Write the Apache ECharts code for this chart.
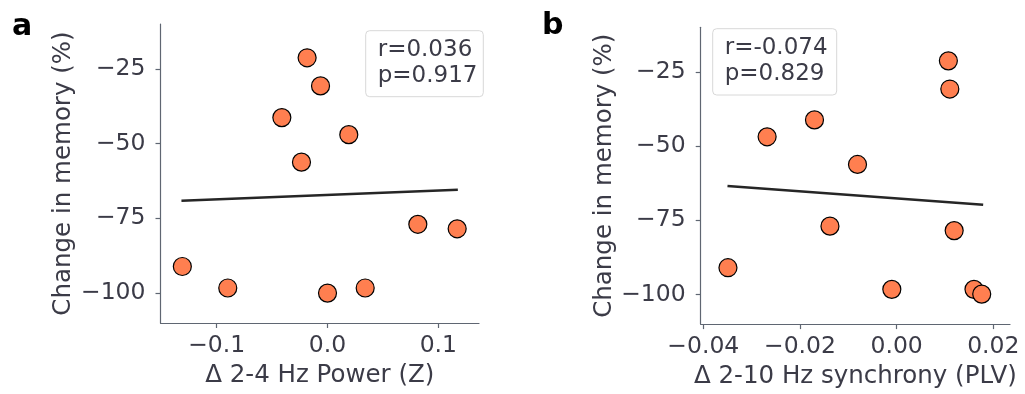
<!DOCTYPE html>
<html>
<head>
<meta charset="utf-8">
<script src="https://cdn.jsdelivr.net/npm/echarts@6/dist/echarts.min.js"></script>
<style>
  html, body { margin: 0; padding: 0; background: #fff; }
  #chart { width: 1025px; height: 394px; }
</style>
</head>
<body>
<div id="chart"></div>
<script>
// panel a: delta 2-4 Hz power vs change in memory
const powerX = [-0.0184, -0.0063, -0.0412, 0.0192, -0.0235, 0.0815, 0.117, -0.131, -0.090, 0.0, 0.034];
const powerY = [-21.3, -30.7, -41.3, -47.0, -56.2, -77.0, -78.5, -91.1, -98.3, -100.0, -98.3];
const powerFitX = [-0.1318, 0.1176];
const powerFitY = [-69.1, -65.4];
const powerTicks = [-0.1, 0, 0.1];

// panel b: delta 2-10 Hz synchrony vs change in memory
const syncX = [0.0107, 0.0110, -0.0170, -0.0268, -0.0081, -0.0138, 0.0119, -0.0349, -0.0010, 0.0160, 0.0176];
const syncY = [-21.3, -30.8, -41.2, -46.9, -56.2, -77.0, -78.5, -91.0, -98.3, -98.3, -99.9];
const syncFitX = [-0.035, 0.0179];
const syncFitY = [-63.5, -69.8];
const syncTicks = [-0.04, -0.02, 0, 0.02];

const memoryTicks = [-100, -75, -50, -25];
const statsA = ["r=0.036", "p=0.917"];
const statsB = ["r=-0.074", "p=0.829"];

const FONT = "DejaVu Sans";
const TEXT = "#3b3b47";
const SPINE = "#5f6672";
const DOT = "#ff7f50";

const minus = (s) => s.replace("-", "\u2212");

const zip = (xs, ys) => xs.map((x, i) => [x, ys[i]]);

const xAxisFor = (idx, min, max, ticks, digits, name) => ({
  gridIndex: idx,
  type: "value",
  min,
  max,
  name,
  nameLocation: "middle",
  nameGap: 38,
  nameTextStyle: { fontFamily: FONT, fontSize: 24.5, color: TEXT },
  splitLine: { show: false },
  axisLine: { show: true, onZero: false, lineStyle: { color: SPINE, width: 1.2 } },
  axisTick: { show: true, length: 5, customValues: ticks, lineStyle: { color: SPINE, width: 1.2 } },
  axisLabel: {
    customValues: ticks,
    margin: 11,
    fontFamily: FONT,
    fontSize: 23.5,
    color: TEXT,
    formatter: (v) => minus(v.toFixed(digits)),
  },
});

const yAxisFor = (idx) => ({
  gridIndex: idx,
  type: "value",
  min: -110,
  max: -10,
  name: "Change in memory (%)",
  nameLocation: "middle",
  nameGap: 84,
  nameTextStyle: { fontFamily: FONT, fontSize: 24.5, color: TEXT },
  splitLine: { show: false },
  axisLine: { show: true, onZero: false, lineStyle: { color: SPINE, width: 1.2 } },
  axisTick: { show: true, length: 5, customValues: memoryTicks, lineStyle: { color: SPINE, width: 1.2 } },
  axisLabel: {
    customValues: memoryTicks,
    margin: 15,
    fontFamily: FONT,
    fontSize: 23.5,
    color: TEXT,
    formatter: (v) => minus(String(v)),
  },
});

const scatterFor = (idx, xs, ys) => ({
  type: "scatter",
  xAxisIndex: idx,
  yAxisIndex: idx,
  data: zip(xs, ys),
  symbolSize: 18,
  itemStyle: { color: DOT, borderColor: "#000", borderWidth: 1.2, opacity: 1 },
  z: 3,
  silent: true,
});

const fitFor = (idx, xs, ys) => ({
  type: "line",
  xAxisIndex: idx,
  yAxisIndex: idx,
  data: zip(xs, ys),
  showSymbol: false,
  lineStyle: { color: "#262626", width: 2.5 },
  z: 2,
  silent: true,
});

const statsBox = (x, y, w, h, lines) => ({
  type: "group",
  children: [
    {
      type: "rect",
      shape: { x, y, width: w, height: h, r: 4 },
      style: { fill: "#fff", stroke: "#d8d8d8", lineWidth: 1 },
    },
    ...lines.map((t, i) => ({
      type: "text",
      style: {
        x: x + 12,
        y: y + 19 + i * 26.5,
        text: t,
        font: `23px "${FONT}"`,
        fill: TEXT,
        textVerticalAlign: "middle",
      },
    })),
  ],
});

const chart = echarts.init(document.getElementById("chart"));

chart.setOption({
  animation: false,
  backgroundColor: "#fff",
  grid: [
    { left: 160.5, top: 24, width: 318.5, height: 299 },
    { left: 700.7, top: 27.3, width: 309.3, height: 299.4 },
  ],
  xAxis: [
    xAxisFor(0, -0.1507, 0.1367, powerTicks, 1, "\u0394 2-4 Hz Power (Z)"),
    xAxisFor(1, -0.04054, 0.02345, syncTicks, 2, "\u0394 2-10 Hz synchrony (PLV)"),
  ],
  yAxis: [yAxisFor(0), yAxisFor(1)],
  series: [
    fitFor(0, powerFitX, powerFitY),
    scatterFor(0, powerX, powerY),
    fitFor(1, syncFitX, syncFitY),
    scatterFor(1, syncX, syncY),
  ],
  graphic: [
    {
      type: "text",
      style: { x: 12, y: 27, text: "a", font: `bold 30px "${FONT}"`, fill: "#000", textVerticalAlign: "middle" },
    },
    {
      type: "text",
      style: { x: 542, y: 26, text: "b", font: `bold 30px "${FONT}"`, fill: "#000", textVerticalAlign: "middle" },
    },
    statsBox(365.7, 30.7, 117.6, 66, statsA),
    statsBox(712.7, 28.7, 124, 66.3, statsB),
  ],
});
</script>
</body>
</html>
